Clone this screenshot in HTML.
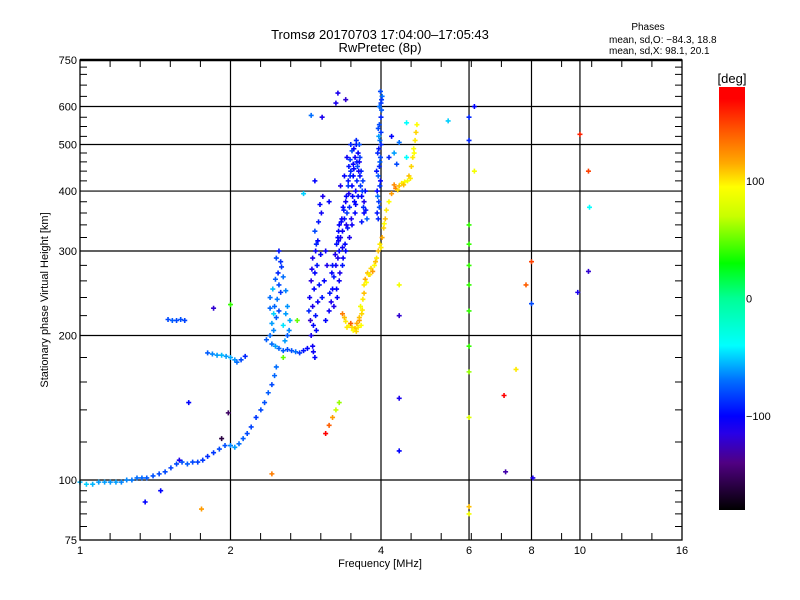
<!DOCTYPE html>
<html><head><meta charset="utf-8"><style>
html,body{margin:0;padding:0;background:#fff;}
svg{display:block;font-family:"Liberation Sans",sans-serif;}
</style></head><body>
<svg id="chart" width="800" height="600" viewBox="0 0 800 600" xmlns="http://www.w3.org/2000/svg">
<rect width="800" height="600" fill="#fff"/>
<text x="380" y="39" text-anchor="middle" font-size="13">Tromsø 20170703 17:04:00–17:05:43</text>
<text x="380" y="52" text-anchor="middle" font-size="13">RwPretec (8p)</text>
<text x="648" y="30" text-anchor="middle" font-size="10">Phases</text>
<text x="609" y="43" font-size="10">mean, sd,O: −84.3, 18.8</text>
<text x="609" y="54" font-size="10">mean, sd,X:  98.1, 20.1</text>
<g id="grid"></g>
<g id="marks"></g>
<g id="axes"></g>
<text x="380" y="567" text-anchor="middle" font-size="11">Frequency [MHz]</text>
<text transform="translate(48,300) rotate(-90)" text-anchor="middle" font-size="11">Stationary phase Virtual Height [km]</text>
<defs><linearGradient id="cbg" x1="0" y1="0" x2="0" y2="1"></linearGradient></defs>
<rect x="719" y="87" width="26" height="423" fill="url(#cbg)"/>
<text x="732" y="83" text-anchor="middle" font-size="13">[deg]</text>
<g id="cbticks"></g>
</svg>
<script>
// ---- data ----
var xTicks = [1, 2, 4, 6, 8, 10, 16];
var xGrid = [2, 4, 6, 8, 10];
var yTicks = [75, 100, 200, 300, 400, 500, 600, 750];
var yGrid = [100, 200, 300, 400, 500, 600];
var cbTicks = [100, 0, -100];

// O-mode low trace
var oLowF = [1.00,1.03,1.06,1.09,1.12,1.15,1.18,1.21,1.24,1.27,1.30,1.33,1.36,1.40,1.44,1.48,1.52,1.56,1.60,1.64,1.68,1.72,1.76,1.80,1.85,1.90,1.95,2.00,2.04,2.08,2.12,2.16,2.20,2.25,2.30,2.34,2.38,2.42,2.45,2.47];
var oLowH = [99,98,98,99,99,99,99,99,100,100,101,101,101,102,103,104,106,108,109,108,109,109,110,112,114,116,118,118,117,119,122,125,129,135,140,145,152,158,165,172];
var oLowP = [-55,-50,-55,-60,-60,-62,-60,-65,-65,-68,-70,-72,-75,-78,-80,-80,-82,-80,-78,-75,-80,-82,-85,-88,-85,-80,-78,-65,-60,-70,-75,-80,-82,-85,-80,-78,-75,-80,-72,-70];

// ledges and mid traces
var ledgeF = [1.50,1.53,1.56,1.59,1.62, 1.80,1.84,1.88,1.92,1.96,2.00,2.04,2.06,2.10,2.14, 2.36,2.42,2.46,2.50,2.55,2.60,2.65,2.70,2.75,2.80,2.85];
var ledgeH = [216,215,215,216,215, 184,183,182,182,181,180,178,176,178,181, 196,192,190,188,186,187,186,185,184,186,188];
var ledgeP = [-80,-75,-80,-78,-82, -75,-65,-60,-55,-60,-58,-62,-70,-80,-90, -75,-70,-60,-72,-75,-80,-78,-70,-85,-95,-100];

var midF = [2.40,2.44,2.42,2.47,2.50,2.45,2.48,2.52,2.50,2.46,2.49,2.53,2.47,2.50,2.55,2.58,2.40,2.60,2.62,2.57,2.43,2.55,2.60,2.52,2.44,2.58,2.63,2.40];
var midH = [200,205,212,218,225,230,238,246,255,262,270,278,290,300,210,222,240,200,205,195,250,265,230,285,222,248,215,228];
var midP = [-70,-65,-60,-75,-80,-72,-68,-85,-80,-75,-90,-85,-80,-95,-45,-60,-70,-75,-65,-60,-55,-70,-62,-88,-50,-66,-58,-72];

var colDF = [2.95,2.92,2.90,2.93,2.96,2.92,2.88,2.94,2.90,2.95,2.98,2.92,2.96,2.99,2.95,3.00,3.04,3.02,3.06,3.08,3.05,3.10,3.12,2.87,2.97,2.89,2.99,3.01,2.91,3.03,2.97,2.93];
var colDH = [180,190,200,210,220,230,240,250,260,270,280,290,300,315,330,345,360,375,390,260,240,300,280,225,205,215,235,255,275,295,310,185];
var colDP = [-100,-105,-110,-100,-95,-110,-105,-100,-115,-100,-95,-110,-105,-100,-80,-95,-105,-100,-110,-100,-95,-105,-110,-90,-100,-120,-105,-95,-110,-100,-90,-105];

var mainF = [3.10,3.15,3.18,3.20,3.22,3.25,3.28,3.30,3.26,3.32,3.35,3.30,3.38,3.42,3.36,3.40,3.45,3.50,3.44,3.48,3.52,3.55,3.50,3.57,3.60,3.62,3.65,3.68,3.72,3.70,3.60,3.55,3.50,3.46,3.40,3.35,3.30,3.27,3.22,3.58,3.64,3.70,3.75,3.66,3.52,3.42,3.62,3.48,3.38,3.32,3.45,3.56,3.63,3.34,3.28,
  3.16,3.19,3.24,3.29,3.33,3.37,3.41,3.44,3.47,3.53,3.58,3.61,3.67,3.54,3.49,3.43,3.39,3.36,3.31,3.26,3.20,3.46,3.51,3.56,3.59,3.63,3.53,3.57,3.41,3.47,3.66,3.69,3.73,3.35,3.29];
var mainH = [215,225,235,250,265,280,290,300,310,320,330,340,350,360,370,380,395,410,420,440,455,470,485,500,480,460,440,420,400,380,390,360,340,320,300,280,260,240,230,420,410,360,350,345,430,470,500,500,430,410,450,375,470,350,320,
  245,270,295,315,345,365,390,410,430,445,460,440,400,380,350,335,310,290,270,250,280,370,390,400,450,430,490,510,340,465,390,370,365,305,330];
var mainP = [-100,-105,-110,-100,-95,-105,-110,-100,-95,-110,-105,-100,-95,-85,-100,-105,-110,-100,-95,-90,-100,-105,-80,-95,-100,-105,-90,-85,-100,-110,-95,-100,-105,-110,-100,-95,-105,-100,-110,-90,-85,-100,-75,-95,-100,-105,-80,-90,-100,-110,-95,-100,-85,-105,-100,
  -95,-100,-110,-105,-100,-95,-100,-85,-90,-100,-95,-105,-85,-100,-110,-95,-100,-105,-110,-100,-95,-90,-100,-105,-80,-95,-100,-90,-110,-85,-100,-90,-95,-105,-100];

var colFF = [3.95,3.97,3.94,3.98,3.95,3.97,3.99,3.96,3.98,4.00,3.97,4.00,4.01,4.00,4.02,3.99,3.93,3.92,3.94,3.96,3.99,3.93,3.96,3.98,4.00,3.95,3.97,4.01];
var colFH = [350,370,390,410,430,450,470,490,510,530,550,570,590,610,630,645,400,440,480,520,420,360,380,460,500,540,600,620];
var colFP = [-90,-80,-70,-85,-75,-90,-80,-95,-70,-85,-80,-90,-75,-85,-70,-80,-100,-95,-90,-60,-100,-95,-85,-75,-90,-80,-70,-85];

// X-mode trace
var xModeF = [3.35,3.38,3.40,3.45,3.50,3.55,3.60,3.65,3.62,3.66,3.64,3.68,3.70,3.70,3.72,3.76,3.80,3.85,3.88,3.92,3.95,3.98,4.02,4.05,4.08,4.10,4.15,4.20,4.28,4.35,4.40,4.46,4.52,4.55,4.60,4.63,4.65,4.68,4.70,4.72,3.48,3.58,3.78,4.25,
  3.42,3.52,3.62,3.57,3.67,3.74,3.82,3.90,4.00,4.06,4.32,4.44,4.58,4.66];
var xModeH = [222,218,214,210,208,207,208,210,215,222,230,238,245,255,262,270,268,272,280,290,300,310,320,335,350,365,380,395,405,410,415,418,420,430,450,470,490,510,530,550,212,212,268,412,
  208,205,218,204,226,258,276,285,305,342,402,412,425,480];
var xModeP = [130,110,100,95,105,110,100,95,120,105,90,100,110,100,115,110,105,120,95,100,110,100,115,105,110,100,95,120,130,110,100,95,90,110,105,100,95,100,105,95,140,115,100,125,
  100,95,110,105,100,95,105,110,100,95,105,110,100,95];

// scattered echoes
var scatF = [6.0,6.0,6.0,6.0,6.0,6.0,6.0,6.0,6.0,6.0,6.0,6.0,6.15,6.15,4.35,4.35,4.35,4.35,7.05,7.45,7.1,7.8,8.0,8.0,8.05,9.9,10.0,10.4,10.45,10.4,5.45,4.5,2.9,3.05,3.28,3.25,3.40,2.8,3.15,2.95,1.35,1.45,1.75,1.85,2.0,2.42,3.1,3.15,3.2,3.25,3.3,1.58,1.92,1.98,1.65,2.72,2.55,4.15,4.25,4.20,4.35,4.50,4.30];
var scatH = [340,310,280,255,225,190,168,135,88,85,570,510,600,440,255,220,148,115,150,170,104,255,285,233,101,246,525,440,370,272,560,555,575,570,640,610,620,395,380,420,90,95,87,228,232,103,125,130,135,140,145,110,122,138,145,215,180,470,480,520,505,470,455];
var scatP = [40,40,40,40,40,40,60,80,110,90,-90,-90,-100,90,90,-120,-110,-100,170,100,-130,140,150,-80,-110,-110,160,150,-40,-120,-50,-40,-70,-110,-110,-110,-120,-50,-100,-100,-100,-100,120,-120,40,130,170,140,120,70,60,-110,-160,-150,-100,50,50,-90,-60,-100,-70,-40,-80];

// ---- axes ----
var L=80, R=682, T=60, B=540;
function xs(f){ return L + (R-L) * Math.log(f)/Math.log(16); }
function ys(h){ return B - (B-T) * Math.log(h/75)/Math.log(10); }

var stops = [[-180,0,0,0],[-140,80,0,130],[-115,40,0,230],[-100,0,0,255],[-70,0,110,255],[-40,0,255,255],[0,0,255,150],[30,0,255,0],[70,200,255,0],[95,255,255,0],[115,255,170,0],[145,255,80,0],[170,255,0,0],[180,255,0,0]];
function pcolor(p){
  for (var i=0;i<stops.length-1;i++){
    var a=stops[i], b=stops[i+1];
    if (p>=a[0] && p<=b[0]){
      var t=(p-a[0])/(b[0]-a[0]);
      return 'rgb('+Math.round(a[1]+t*(b[1]-a[1]))+','+Math.round(a[2]+t*(b[2]-a[2]))+','+Math.round(a[3]+t*(b[3]-a[3]))+')';
    }
  }
  return p<-180?'rgb(0,0,0)':'rgb(255,0,0)';
}
var NS='http://www.w3.org/2000/svg';
function mk(tag, parent){ var e=document.createElementNS(NS,tag); parent.appendChild(e); return e; }

var grid=document.getElementById('grid');
xGrid.forEach(function(f){
  var l=mk('line',grid);
  
  
  l.setAttribute('x1',xs(f));l.setAttribute('x2',xs(f));l.setAttribute('y1',T);l.setAttribute('y2',B);
  l.setAttribute('stroke','#000');l.setAttribute('stroke-width','1.2');
});
yGrid.forEach(function(h){
  var l=mk('line',grid);
  
  
  l.setAttribute('x1',L);l.setAttribute('x2',R);l.setAttribute('y1',ys(h));l.setAttribute('y2',ys(h));
  l.setAttribute('stroke','#000');l.setAttribute('stroke-width','1.2');
});

var marks=document.getElementById('marks');
function plot(F,H,P,name){
  for (var i=0;i<F.length;i++){
    var x=xs(F[i]), y=ys(H[i]), c=pcolor(P[i]);
    var g=mk('path',marks);
    
    
    g.setAttribute('d','M'+(x-2.5)+' '+y+'h5M'+x+' '+(y-2.5)+'v5');
    g.setAttribute('stroke',c);g.setAttribute('stroke-width','1.6');
  }
}
plot(oLowF,oLowH,oLowP,'o-trace-low-point');
plot(ledgeF,ledgeH,ledgeP,'ledge-point');
plot(midF,midH,midP,'mid-trace-point');
plot(colDF,colDH,colDP,'column-point');
plot(mainF,mainH,mainP,'o-trace-main-point');
plot(colFF,colFH,colFP,'o-trace-4mhz-point');
plot(xModeF,xModeH,xModeP,'x-trace-point');
plot(scatF,scatH,scatP,'scatter-point');

var axes=document.getElementById('axes');
var fr=mk('rect',axes);


fr.setAttribute('x',L);fr.setAttribute('y',T);fr.setAttribute('width',R-L);fr.setAttribute('height',B-T);
fr.setAttribute('fill','none');fr.setAttribute('stroke','#000');fr.setAttribute('stroke-width','1.3');
var tl=mk('line',axes);


tl.setAttribute('x1',L);tl.setAttribute('x2',R);tl.setAttribute('y1',T);tl.setAttribute('y2',T);tl.setAttribute('stroke','#000');tl.setAttribute('stroke-width','2.5');

var d='';
var xMinor=[];
for (var k=1;k<20;k++){ if(k%5) xMinor.push(Math.pow(2,k/5)); }
xMinor.forEach(function(f){ var x=xs(f); d+='M'+x+' '+B+'v-7M'+x+' '+T+'v7'; });
var yMinor=[80,85,90,95,120,140,160,180,220,240,260,280,320,340,360,380,420,440,460,480,520,545,570,630,665,700,725];
yMinor.forEach(function(h){ var y=ys(h); d+='M'+L+' '+y+'h7M'+R+' '+y+'h-7'; });
yTicks.forEach(function(h){ var y=ys(h); d+='M'+L+' '+y+'h10M'+R+' '+y+'h-10'; });
var tk=mk('path',axes);


tk.setAttribute('d',d);tk.setAttribute('stroke','#000');tk.setAttribute('stroke-width','1');

xTicks.forEach(function(f){
  var t=mk('text',axes);
  
  
  t.setAttribute('x',xs(f));t.setAttribute('y',B+14);t.setAttribute('text-anchor','middle');t.setAttribute('font-size','11');
  t.textContent=f;
});
yTicks.forEach(function(h){
  var t=mk('text',axes);
  
  
  t.setAttribute('x',L-3);t.setAttribute('y',ys(h)+4);t.setAttribute('text-anchor','end');t.setAttribute('font-size','11');
  t.textContent=h;
});

var grad=document.getElementById('cbg');
stops.slice().reverse().forEach(function(s){
  var st=mk('stop',grad);
  st.setAttribute('offset',((180-s[0])/360*100)+'%');
  st.setAttribute('stop-color','rgb('+s[1]+','+s[2]+','+s[3]+')');
});
var cb=document.getElementById('cbticks');
cbTicks.forEach(function(p){
  var t=mk('text',cb);
  
  
  t.setAttribute('x',746);t.setAttribute('y',87+(180-p)/360*423+4);t.setAttribute('font-size','11');
  t.textContent=(p<0?'−'+(-p):p);
});
</script>
</body></html>
